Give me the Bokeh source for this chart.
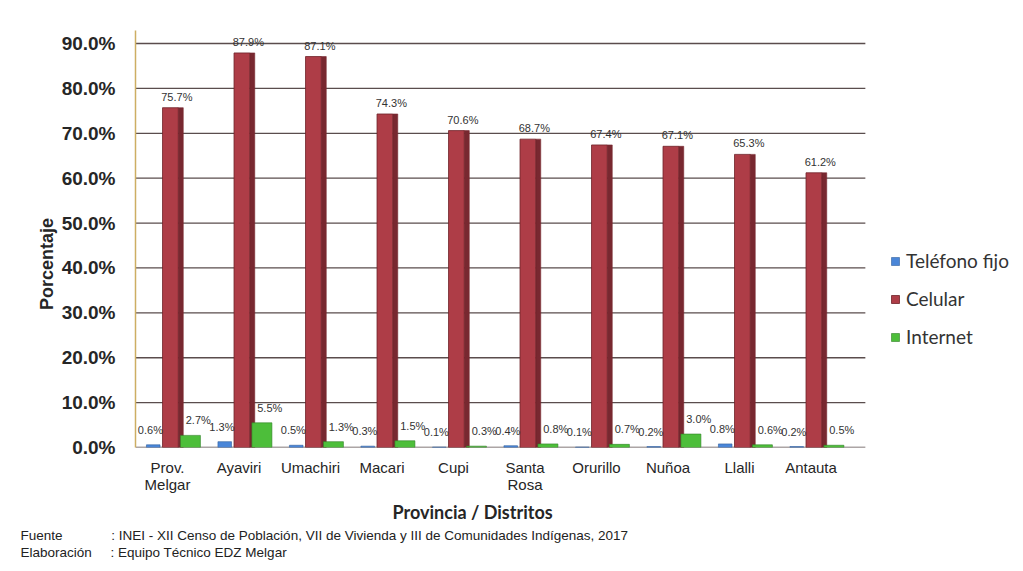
from bokeh.plotting import figure
from bokeh.models import (ColumnDataSource, FixedTicker, Legend, LegendItem, Title,
                          PrintfTickFormatter, Range1d)
from bokeh.transform import dodge
from bokeh.core.properties import value
from bokeh.embed import file_html
from bokeh.resources import INLINE

# ---------------- data ----------------
categories = ["Prov.\nMelgar", "Ayaviri", "Umachiri", "Macari", "Cupi",
              "Santa\nRosa", "Orurillo", "Nuñoa", "Llalli", "Antauta"]
telefono_fijo = [0.6, 1.3, 0.5, 0.3, 0.1, 0.4, 0.1, 0.2, 0.8, 0.2]
celular = [75.7, 87.9, 87.1, 74.3, 70.6, 68.7, 67.4, 67.1, 65.3, 61.2]
internet = [2.7, 5.5, 1.3, 1.5, 0.3, 0.8, 0.7, 3.0, 0.6, 0.5]
series_names = ["Teléfono fijo", "Celular", "Internet"]
y_ticks = [0, 10, 20, 30, 40, 50, 60, 70, 80, 90]
y_title = "Porcentaje"
x_title = "Provincia / Distritos"
note_keys = ["Fuente", "Elaboración"]
note_texts = ["INEI - XII Censo de Población, VII de Vivienda y III de Comunidades Indígenas, 2017",
              "Equipo Técnico EDZ Melgar"]

# ---------------- style ----------------
colors = ["#4A86D8", "#AE3D47", "#4DBE3A"]
side_red = "#782830"
FONT = "Liberation Sans"
NBSP = "\u00a0"
X_START, X_CHART_END, X_END = -0.448, 9.76, 11.86

xs = list(range(len(categories)))
src = ColumnDataSource(dict(
    x=xs, tel=telefono_fijo, cel=celular, net=internet,
    tel_lbl=[f"{v:.1f}%" for v in telefono_fijo],
    cel_lbl=[f"{v:.1f}%" for v in celular],
    net_lbl=[f"{v:.1f}%" for v in internet],
))

p = figure(width=1015, height=563, output_backend="svg", toolbar_location=None,
           x_range=Range1d(X_START, X_END), y_range=Range1d(0, 92.9),
           min_border_left=135, min_border_right=0, min_border_top=30,
           min_border_bottom=116)
p.outline_line_color = None
p.background_fill_color = "white"
p.border_fill_color = "white"
p.grid.grid_line_color = None

# horizontal gridlines limited to the chart area
p.segment(x0=X_START, x1=X_CHART_END, y0=y_ticks, y1=y_ticks,
          line_color="#5a4d4d", line_width=1.3)

# bars
r_tel = p.vbar(x=dodge("x", -0.2, range=p.x_range), top="tel", width=0.19, source=src,
               fill_color=colors[0], line_color="#2f5f9e", line_width=0.6)
p.vbar(x=dodge("x", 0.185, range=p.x_range), top="cel", width=0.07, source=src,
       fill_color=side_red, line_color=side_red, line_width=0.6)
r_cel = p.vbar(x=dodge("x", 0.04, range=p.x_range), top="cel", width=0.22, source=src,
               fill_color=colors[1], line_color="#6e2228", line_width=0.8)
r_net = p.vbar(x=dodge("x", 0.32, range=p.x_range), top="net", width=0.28, source=src,
               fill_color=colors[2], line_color="#2f7f25", line_width=0.6)

# data labels
lbl_kw = dict(text_font=value(FONT), text_font_size="11px", text_color="#333333",
              text_align="center", text_baseline="bottom", source=src)
p.text(x=dodge("x", -0.24, range=p.x_range), y="tel", text="tel_lbl", y_offset=-9, **lbl_kw)
p.text(x=dodge("x", 0.13, range=p.x_range), y="cel", text="cel_lbl", y_offset=-5, **lbl_kw)
p.text(x=dodge("x", 0.43, range=p.x_range), y="net", text="net_lbl", y_offset=-9, **lbl_kw)

# y axis
p.yaxis.ticker = FixedTicker(ticks=y_ticks)
p.yaxis.formatter = PrintfTickFormatter(format="%.1f%%")
p.yaxis.major_label_text_font = FONT
p.yaxis.major_label_text_font_style = "bold"
p.yaxis.major_label_text_font_size = "19px"
p.yaxis.major_label_text_color = "#262626"
p.yaxis.major_label_standoff = 20
p.yaxis.major_tick_out = 0
p.yaxis.major_tick_in = 0
p.yaxis.minor_tick_out = 0
p.yaxis.minor_tick_in = 0
p.yaxis.major_tick_line_color = None
p.yaxis.minor_tick_line_color = None
p.yaxis.axis_line_color = "#CDAE63"
p.yaxis.axis_line_width = 1.5
p.yaxis.axis_label = y_title + NBSP * 10
p.yaxis.axis_label_text_font = FONT
p.yaxis.axis_label_text_font_style = "bold"
p.yaxis.axis_label_text_font_size = "18px"
p.yaxis.axis_label_text_color = "#262626"
p.yaxis.axis_label_standoff = 2

# x axis
p.xaxis.ticker = FixedTicker(ticks=xs)
p.xaxis.major_label_overrides = {i: c for i, c in zip(xs, categories)}
p.xaxis.major_label_text_font = FONT
p.xaxis.major_label_text_font_size = "15px"
p.xaxis.major_label_text_line_height = 1.05
p.xaxis.major_label_text_color = "#262626"
p.xaxis.major_label_standoff = 11
p.xaxis.major_tick_out = 0
p.xaxis.major_tick_in = 0
p.xaxis.minor_tick_out = 0
p.xaxis.minor_tick_in = 0
p.xaxis.major_tick_line_color = None
p.xaxis.minor_tick_line_color = None
p.xaxis.axis_line_color = None

# x title and source notes stacked below
p.add_layout(Title(text=x_title, align="left", offset=257, text_font="Lato",
                   text_font_style="bold", text_font_size="18px", text_color="#262626",
                   standoff=5), "below")
pads = [13, 5]
for k, t, n in zip(note_keys, note_texts, pads):
    p.add_layout(Title(text=k + NBSP * n + ":" + NBSP + t, align="left", offset=-115,
                       text_font=FONT, text_font_size="13.5px", text_font_style="normal",
                       text_color="#222222", standoff=0), "below")

# legend
legend = Legend(items=[LegendItem(label=series_names[0], renderers=[r_tel]),
                       LegendItem(label=series_names[1], renderers=[r_cel]),
                       LegendItem(label=series_names[2], renderers=[r_net])],
                location=(755, 99), padding=0, margin=0, spacing=15,
                glyph_width=10, glyph_height=10, label_height=20, label_standoff=6,
                label_text_font="Lato", label_text_font_size="19px",
                label_text_color="#333333", label_text_baseline="middle",
                border_line_color=None, background_fill_alpha=0)
p.add_layout(legend, "center")

open("out.html", "w").write(file_html(p, INLINE))
